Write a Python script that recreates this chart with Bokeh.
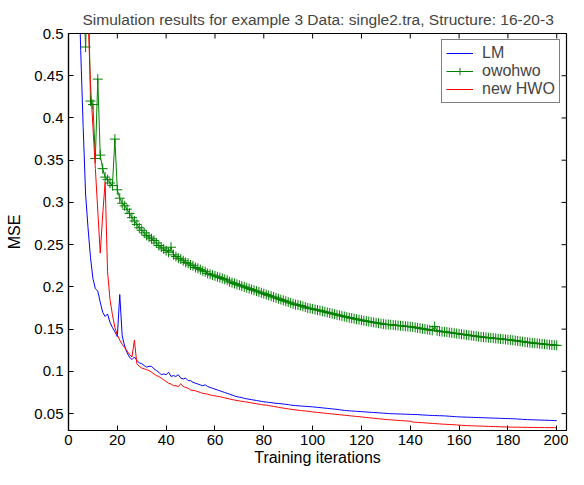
from bokeh.plotting import figure
from bokeh.models import Range1d, FixedTicker, Legend, LegendItem, ColumnDataSource
from bokeh.embed import file_html
from bokeh.resources import INLINE
import math

iterations = list(range(1, 201))

lm = [
    0.95, 0.78, 0.66, 0.58, 0.48, 0.39, 0.31, 0.27, 0.235, 0.21,
    0.198, 0.195, 0.182, 0.170, 0.165, 0.168, 0.158, 0.152, 0.147, 0.141,
    0.191, 0.142, 0.130, 0.122, 0.117, 0.114, 0.117, 0.113, 0.110, 0.109,
    0.107, 0.105, 0.106, 0.106, 0.103, 0.101, 0.099, 0.096, 0.097, 0.096,
    0.099, 0.094, 0.095, 0.094, 0.096, 0.092, 0.091, 0.092, 0.089, 0.089,
    0.087, 0.086, 0.085, 0.084, 0.083, 0.084, 0.082, 0.081, 0.080, 0.079,
    0.078, 0.077, 0.076, 0.075, 0.074, 0.073, 0.072, 0.071, 0.070, 0.0695,
    0.069, 0.068, 0.0675, 0.067, 0.0665, 0.066, 0.0655, 0.065, 0.0645, 0.064,
    0.0637, 0.0633, 0.063, 0.0626, 0.0622, 0.062, 0.0617, 0.0613, 0.061, 0.0606,
    0.0602, 0.0598, 0.0595, 0.0592, 0.059, 0.0588, 0.0586, 0.0584, 0.0582, 0.058,
    0.0577, 0.0574, 0.0571, 0.0568, 0.0565, 0.0562, 0.0559, 0.0556, 0.0553, 0.055,
    0.0546, 0.0542, 0.0538, 0.0535, 0.0533, 0.0531, 0.0529, 0.0527, 0.0525, 0.0523,
    0.0521, 0.0519, 0.0517, 0.0515, 0.0513, 0.0511, 0.0509, 0.0507, 0.0505, 0.0503,
    0.0501, 0.0499, 0.0498, 0.0497, 0.0496, 0.0495, 0.0494, 0.0493, 0.0492, 0.0491,
    0.049, 0.0489, 0.0488, 0.0486, 0.0484, 0.0482, 0.0481, 0.0479, 0.0478, 0.0477,
    0.0476, 0.0475, 0.0474, 0.0473, 0.0471, 0.0469, 0.0467, 0.0465, 0.0463, 0.0461,
    0.046, 0.0459, 0.0458, 0.0457, 0.0456, 0.0455, 0.0454, 0.0453, 0.0452, 0.0451,
    0.045, 0.0449, 0.0448, 0.0447, 0.0446, 0.0445, 0.0444, 0.0443, 0.0442, 0.0441,
    0.044, 0.0439, 0.0438, 0.0436, 0.0434, 0.0432, 0.043, 0.0429, 0.0428, 0.0427,
    0.0426, 0.0425, 0.0424, 0.0423, 0.0422, 0.0421, 0.042, 0.0419, 0.0418, 0.0417,
]

owohwo = [
    1.40, 0.95, 0.78, 0.68, 0.60, 0.56, 0.484, 0.58, 0.420, 0.416,
    0.352, 0.446, 0.356, 0.340, 0.330, 0.327, 0.323, 0.320, 0.375, 0.315,
    0.305, 0.299, 0.296, 0.292, 0.287, 0.282, 0.278, 0.274, 0.270, 0.267,
    0.264, 0.261, 0.259, 0.257, 0.255, 0.252, 0.249, 0.247, 0.245, 0.243,
    0.241, 0.247, 0.238, 0.236, 0.234, 0.233, 0.231, 0.229, 0.228, 0.226,
    0.225, 0.223, 0.222, 0.2205, 0.219, 0.218, 0.216, 0.215, 0.214, 0.213,
    0.212, 0.211, 0.210, 0.209, 0.208, 0.206, 0.205, 0.204, 0.203, 0.202,
    0.201, 0.200, 0.199, 0.198, 0.197, 0.196, 0.195, 0.194, 0.193, 0.192,
    0.191, 0.190, 0.189, 0.188, 0.187, 0.186, 0.185, 0.184, 0.183, 0.182,
    0.181, 0.180, 0.179, 0.1785, 0.178, 0.177, 0.176, 0.175, 0.1745, 0.174,
    0.1733, 0.1726, 0.1719, 0.1712, 0.1705, 0.1698, 0.1691, 0.1684, 0.1677, 0.167,
    0.1663, 0.1656, 0.1649, 0.1642, 0.1636, 0.163, 0.1624, 0.1618, 0.1612, 0.1606,
    0.16, 0.1595, 0.159, 0.1585, 0.158, 0.1575, 0.157, 0.1565, 0.156, 0.1556,
    0.1555, 0.1552, 0.1549, 0.1546, 0.1543, 0.154, 0.1537, 0.1534, 0.1531, 0.1528,
    0.1525, 0.152, 0.1515, 0.151, 0.1505, 0.15, 0.1495, 0.149, 0.1485, 0.153,
    0.148, 0.1475, 0.147, 0.1468, 0.1465, 0.146, 0.1456, 0.1452, 0.1448, 0.1444,
    0.144, 0.1436, 0.1432, 0.1428, 0.1424, 0.142, 0.1416, 0.1412, 0.1408, 0.1405,
    0.1402, 0.1399, 0.1396, 0.1393, 0.139, 0.1387, 0.1384, 0.1381, 0.1378, 0.1375,
    0.1372, 0.1368, 0.1364, 0.136, 0.1356, 0.1352, 0.1348, 0.1344, 0.134, 0.1337,
    0.1334, 0.1331, 0.1328, 0.1325, 0.1322, 0.1319, 0.1316, 0.1313, 0.131, 0.1308,
]

new_hwo = [
    1.40, 1.10, 0.90, 0.78, 0.70, 0.62, 0.56, 0.52, 0.44, 0.39,
    0.34, 0.29, 0.240, 0.285, 0.324, 0.218, 0.185, 0.167, 0.152, 0.143,
    0.137, 0.132, 0.128, 0.124, 0.120, 0.117, 0.137, 0.109, 0.106, 0.104,
    0.103, 0.102, 0.101, 0.099, 0.097, 0.095, 0.094, 0.092, 0.090, 0.088,
    0.086, 0.085, 0.083, 0.083, 0.082, 0.0855, 0.082, 0.081, 0.080, 0.078,
    0.0775, 0.077, 0.076, 0.075, 0.074, 0.0735, 0.073, 0.072, 0.0715, 0.071,
    0.0705, 0.070, 0.0693, 0.0686, 0.068, 0.0673, 0.0666, 0.066, 0.0655, 0.065,
    0.0645, 0.064, 0.0638, 0.0632, 0.0627, 0.0622, 0.0617, 0.0612, 0.0607, 0.0602,
    0.060, 0.0595, 0.059, 0.0585, 0.058, 0.0575, 0.057, 0.0565, 0.056, 0.0556,
    0.0552, 0.0548, 0.0544, 0.054, 0.0537, 0.0534, 0.0531, 0.0528, 0.0525, 0.052,
    0.0517, 0.0514, 0.0511, 0.0508, 0.0505, 0.0502, 0.0499, 0.0496, 0.0493, 0.049,
    0.0487, 0.0484, 0.0481, 0.0478, 0.0475, 0.0472, 0.0469, 0.0466, 0.0463, 0.046,
    0.0457, 0.0454, 0.0451, 0.0448, 0.0445, 0.0442, 0.0439, 0.0436, 0.0433, 0.043,
    0.0428, 0.0426, 0.0424, 0.0422, 0.042, 0.0418, 0.0416, 0.0414, 0.0412, 0.041,
    0.0400, 0.0398, 0.0396, 0.0394, 0.0392, 0.039, 0.0388, 0.0386, 0.0384, 0.0382,
    0.038, 0.0378, 0.0376, 0.0374, 0.0373, 0.0371, 0.037, 0.0368, 0.0366, 0.0364,
    0.0362, 0.036, 0.0358, 0.0357, 0.0356, 0.0355, 0.0354, 0.0353, 0.0352, 0.0351,
    0.035, 0.0349, 0.0348, 0.0347, 0.0346, 0.0345, 0.0344, 0.0343, 0.0342, 0.0341,
    0.034, 0.034, 0.0339, 0.0339, 0.0338, 0.0338, 0.0337, 0.0337, 0.0336, 0.0336,
    0.0336, 0.0335, 0.0335, 0.0335, 0.0334, 0.0334, 0.0334, 0.0334, 0.0333, 0.0333,
]

x_min, x_max = 0, 204
y_min, y_max = 0.03, 0.5
x_ticks = [0, 20, 40, 60, 80, 100, 120, 140, 160, 180, 200]
y_ticks = [0.05, 0.1, 0.15, 0.2, 0.25, 0.3, 0.35, 0.4, 0.45, 0.5]
y_tick_labels = ["0.05", "0.1", "0.15", "0.2", "0.25", "0.3", "0.35", "0.4", "0.45", "0.5"]

title_text = "Simulation results for example 3 Data: single2.tra,  Structure: 16-20-3"
x_label = "Training iterations"
y_label = "MSE"
series_names = ["LM", "owohwo", "new HWO"]

FONT = "Liberation Sans"
FS_TICK = "15px"
FS_TEXT = "16px"

p = figure(width=568, height=469, output_backend="svg", toolbar_location=None,
           x_range=Range1d(x_min, x_max), y_range=Range1d(y_min, y_max),
           min_border_left=68, min_border_right=2, min_border_top=33, min_border_bottom=39)
p.grid.visible = False
p.outline_line_color = "black"
p.outline_line_width = 1.2
p.background_fill_color = "white"
p.border_fill_color = "white"

p.title.text = title_text
p.title.text_font = FONT
p.title.text_font_size = "15.5px"
p.title.text_font_style = "normal"
p.title.align = "left"
p.title.offset = 14
p.title.standoff = 12

src = ColumnDataSource(dict(x=iterations, lm=lm, ow=owohwo, hwo=new_hwo))

r_lm = p.line("x", "lm", source=src, line_color="#0000ff", line_width=1)
r_ow = p.line("x", "ow", source=src, line_color="#008000", line_width=1)
r_ows = p.scatter("x", "ow", source=src, marker="cross", size=10,
                  line_color="#008000", line_width=1)
r_hwo = p.line("x", "hwo", source=src, line_color="#ff0000", line_width=1)

# mirrored inward ticks on the top and right edges (half of each dash is clipped by the frame)
p.scatter(x=x_ticks, y=[y_max] * len(x_ticks), marker="dash", angle=math.pi / 2,
          size=10, line_color="black", line_width=1)
p.scatter(x=[x_max] * len(y_ticks), y=y_ticks, marker="dash", angle=0,
          size=10, line_color="black", line_width=1)

xa = p.xaxis[0]
ya = p.yaxis[0]
for ax in (xa, ya):
    ax.major_tick_in = 5
    ax.major_tick_out = 0
    ax.minor_tick_line_color = None
    ax.axis_line_color = "black"
    ax.axis_line_width = 1.2
    ax.major_tick_line_color = "black"
    ax.major_label_text_font = FONT
    ax.major_label_text_font_size = FS_TICK
    ax.major_label_text_color = "black"
    ax.axis_label_text_font = FONT
    ax.axis_label_text_font_size = FS_TEXT
    ax.axis_label_text_font_style = "normal"
    ax.axis_label_text_color = "black"
xa.ticker = FixedTicker(ticks=x_ticks)
ya.ticker = FixedTicker(ticks=y_ticks)
ya.major_label_overrides = {t: s for t, s in zip(y_ticks, y_tick_labels)}
xa.axis_label = x_label
ya.axis_label = y_label
xa.major_label_standoff = 4
xa.axis_label_standoff = 1
ya.major_label_standoff = 5
ya.axis_label_standoff = 8

legend = Legend(items=[
    LegendItem(label=series_names[0], renderers=[r_lm]),
    LegendItem(label=series_names[1], renderers=[r_ow, r_ows]),
    LegendItem(label=series_names[2], renderers=[r_hwo]),
], location="top_right")
legend.margin = 6
legend.padding = 4
legend.spacing = 0
legend.label_height = 18
legend.glyph_height = 18
legend.glyph_width = 27
legend.label_width = 73
legend.label_standoff = 9
legend.label_text_font = FONT
legend.label_text_font_size = FS_TEXT
legend.border_line_color = "black"
legend.border_line_width = 1.5
legend.background_fill_color = "white"
legend.background_fill_alpha = 1.0
p.add_layout(legend)

open("out.html", "w").write(file_html(p, INLINE))
